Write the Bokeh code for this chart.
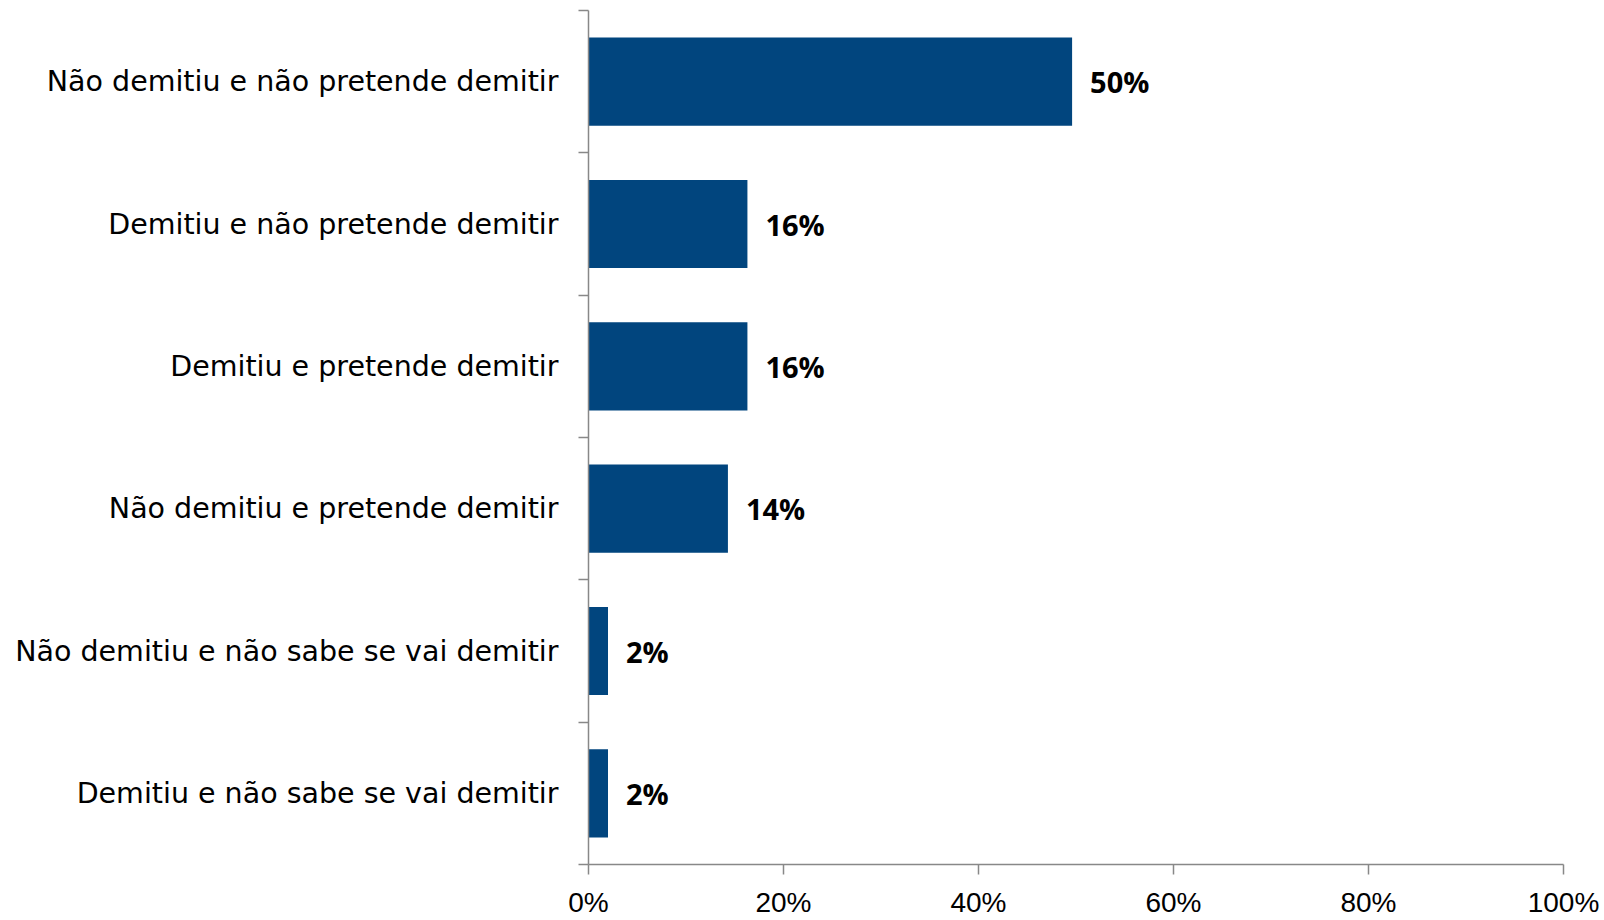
from bokeh.plotting import figure
from bokeh.models import Range1d, FixedTicker, ColumnDataSource
from bokeh.embed import file_html
from bokeh.resources import INLINE
from bokeh.core.properties import value

categories = [
    "Não demitiu e não pretende demitir",
    "Demitiu e não pretende demitir",
    "Demitiu e pretende demitir",
    "Não demitiu e pretende demitir",
    "Não demitiu e não sabe se vai demitir",
    "Demitiu e não sabe se vai demitir",
]
values = [49.6, 16.3, 16.3, 14.3, 2.0, 2.0]
value_labels = ["50%", "16%", "16%", "14%", "2%", "2%"]
x_ticks = [0, 20, 40, 60, 80, 100]
x_tick_labels = ["0%", "20%", "40%", "60%", "80%", "100%"]

n = len(categories)
ypos = [n - i - 0.5 for i in range(n)]

src = ColumnDataSource(dict(y=ypos, v=values, lab=value_labels, cat=categories))

p = figure(width=1604, height=920, output_backend="svg", toolbar_location=None,
           x_range=Range1d(0, 100), y_range=Range1d(0, n),
           min_border_left=588, min_border_right=41, min_border_top=10, min_border_bottom=56)
p.outline_line_color = None
p.xgrid.visible = False
p.ygrid.visible = False

bar_color = "#01457e"
p.hbar(y="y", right="v", left=0, height=0.62, source=src, fill_color=bar_color, line_color=None)
p.text(x="v", y="y", text="lab", source=src, x_offset=18, text_baseline="middle", text_align="left",
       text_font=value("Open Sans"), text_font_style="bold", text_font_size="29px", text_color="#000000")

axis_color = "#888888"
xa = p.xaxis[0]
xa.ticker = FixedTicker(ticks=x_ticks, minor_ticks=[])
xa.major_label_overrides = {t: l for t, l in zip(x_ticks, x_tick_labels)}
xa.axis_line_color = axis_color
xa.axis_line_width = 1.5
xa.major_tick_line_color = axis_color
xa.major_tick_line_width = 1.5
xa.major_tick_out = 10
xa.major_tick_in = 0
xa.minor_tick_line_color = None
xa.major_label_text_font = "Liberation Sans"
xa.major_label_text_font_size = "28px"
xa.major_label_text_color = "#000000"
xa.major_label_standoff = 12

ya = p.yaxis[0]
ya.ticker = FixedTicker(ticks=ypos, minor_ticks=list(range(n + 1)))
ya.major_label_overrides = {y: c for y, c in zip(ypos, categories)}
ya.axis_line_color = axis_color
ya.axis_line_width = 1.5
ya.major_tick_line_color = None
ya.major_tick_out = 0
ya.major_tick_in = 0
ya.minor_tick_line_color = axis_color
ya.minor_tick_line_width = 1.5
ya.minor_tick_out = 10
ya.minor_tick_in = 0
ya.major_label_text_font = "DejaVu Sans"
ya.major_label_text_font_size = "28.5px"
ya.major_label_text_color = "#000000"
ya.major_label_standoff = 20

open("out.html", "w").write(file_html(p, INLINE))
